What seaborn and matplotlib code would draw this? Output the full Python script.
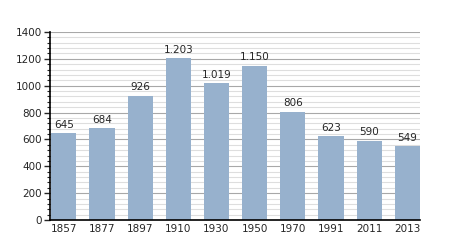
import matplotlib
matplotlib.use("Agg")
import matplotlib.pyplot as plt
import seaborn as sns
import pandas as pd
from matplotlib.ticker import MultipleLocator

years = ["1857", "1877", "1897", "1910", "1930", "1950", "1970", "1991", "2011", "2013"]
population = [645, 684, 926, 1203, 1019, 1150, 806, 623, 590, 549]
labels = ["645", "684", "926", "1.203", "1.019", "1.150", "806", "623", "590", "549"]

df = pd.DataFrame({"year": years, "pop": population})

sns.set_style("white")
plt.rcParams["font.family"] = ["DejaVu Sans"]

fig = plt.figure(figsize=(4.5, 2.5), dpi=100)
ax = fig.add_axes([50/450, 30/250, 370/450, 188/250])

bw = 0.66
sns.barplot(data=df, x="year", y="pop", color="#97b1cd", saturation=1, width=bw,
            edgecolor="none", linewidth=0, ax=ax, zorder=2)

ax.set_ylim(0, 1400)
ax.set_xlim(-bw/2 - 0.03, len(years) - 1 + bw/2)
ax.yaxis.set_major_locator(MultipleLocator(200))
ax.yaxis.set_minor_locator(MultipleLocator(40))
ax.grid(which="major", axis="y", color="#a8a8a8", linewidth=0.8, zorder=0)
ax.grid(which="minor", axis="y", color="#dedede", linewidth=0.8, zorder=0)
ax.set_axisbelow(True)

for s in ["top", "right"]:
    ax.spines[s].set_visible(False)
for s in ["left", "bottom"]:
    ax.spines[s].set_color("black")
    ax.spines[s].set_linewidth(1.2)
    ax.spines[s].set_zorder(3)

ax.tick_params(axis="y", which="major", direction="out", length=4, width=1, left=True, labelsize=7.5, pad=2)
ax.tick_params(axis="y", which="minor", direction="out", length=2, width=0.8, left=True)
ax.tick_params(axis="x", which="both", length=0, labelsize=7.5, pad=3)
ax.set_xlabel("")
ax.set_ylabel("")

for i, (v, t) in enumerate(zip(population, labels)):
    ax.text(i, v + 25, t, ha="center", va="bottom", fontsize=7.5)

fig.savefig("out.png", dpi=100)
